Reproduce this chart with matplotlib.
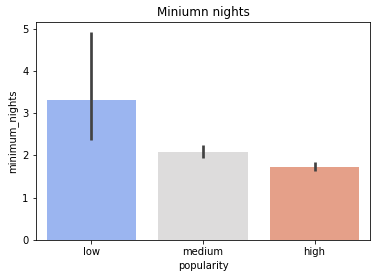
import matplotlib
matplotlib.use("Agg")
import matplotlib.pyplot as plt
import seaborn as sns

categories = ["low", "medium", "high"]
means = [3.30, 2.08, 1.73]
ci_low = [2.36, 1.94, 1.62]
ci_high = [4.93, 2.25, 1.85]

colors = [sns.desaturate(c, 0.75) for c in sns.color_palette("coolwarm", 3)]

fig = plt.figure(figsize=(380 / 72, 278 / 72), dpi=72)
ax = fig.add_axes([0.094, 0.137, 0.8805, 0.783])

x = range(len(categories))
ax.bar(x, means, width=0.8, color=colors)
for xi, lo, hi in zip(x, ci_low, ci_high):
    ax.plot([xi, xi], [lo, hi], color=".26", lw=2.7, solid_capstyle="butt")

ax.set_xticks(list(x))
ax.set_xticklabels(categories)
ax.set_xlim(-0.5, 2.5)
ax.set_ylim(0, 5.15)
ax.set_xlabel("popularity")
ax.set_ylabel("minimum_nights")
ax.set_title("Miniumn nights")

fig.savefig("out.png", dpi=72)
